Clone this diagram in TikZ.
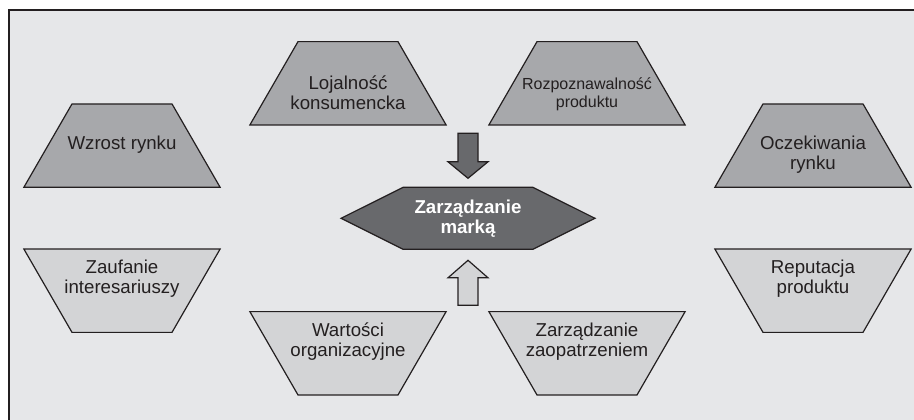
\documentclass[tikz,border=0pt]{standalone}
\usepackage{fontspec}
\setmainfont{Liberation Sans}
\usetikzlibrary{shapes.geometric,shapes.symbols,calc}

\definecolor{bgGray}{RGB}{230,231,233}
\definecolor{darkFill}{RGB}{167,168,171}
\definecolor{lightFill}{RGB}{211,212,214}
\definecolor{hexFill}{RGB}{104,105,108}
\definecolor{lineGray}{RGB}{35,31,32}

\tikzset{every picture/.style={line width=0.75pt},
  upshape/.style={trapezium, trapezium left angle=60, trapezium right angle=60,
    inner xsep=37.5pt, inner ysep=31.25pt,
    draw=lineGray, line width=0.9pt, fill=darkFill},
  downshape/.style={upshape, shape border rotate=180, fill=lightFill},
  lbl/.style={align=center, inner sep=0pt, text=lineGray, font=\fontsize{14}{15}\selectfont},
  hexshape/.style={signal, signal to=west and east, signal pointer angle=53,
    minimum width=190.5pt, minimum height=46.5pt, inner sep=0pt,
    draw=lineGray, line width=0.9pt, fill=hexFill, text=white, align=center,
    font=\bfseries\fontsize{14}{15}\selectfont},
  blockdn/.style={draw=lineGray, line width=0.9pt, fill=hexFill},
  blockup/.style={draw=lineGray, line width=0.9pt, fill=lightFill}
}

\begin{document}
\begin{tikzpicture}[x=0.75pt,y=0.75pt,yscale=-1,xscale=1]
\useasboundingbox (0,0) rectangle (914,420);

%Shape: Frame
\fill [bgGray] (8.7,10) rectangle (914,420);
\draw [color=lineGray, line width=1.5pt] (8.7,420) -- (8.7,10) -- (914,10);

%Shape: Hexagon
\node [hexshape] (hex) at (468,218.3) {Zarządzanie\\marką};

%Shape: Trapezoids, top row
\node [upshape] (lojal) at (348,83.3) {};
\node [upshape] (rozp) at (587,83.3) {};
%Shape: Trapezoids, side columns
\node [upshape] (wzrost) at (122,145.6) {};
\node [upshape] (oczek) at (813,145.6) {};
\node [downshape] (zauf) at (122,290.7) {};
\node [downshape] (reput) at (813,290.7) {};
%Shape: Trapezoids, bottom row
\node [downshape] (wart) at (348,353.3) {};
\node [downshape] (zaop) at (587,353.3) {};

% Text Node
\node [lbl] (lojalT) at ($(lojal)+(0,9)$) {Lojalność\\konsumencka};
\node [lbl, font=\fontsize{12}{13}\selectfont] (rozpT) at ($(rozp)+(0,11)$) {Rozpoznawalność\\produktu};
\node [lbl] (wzrostT) at ($(wzrost)+(0,-1)$) {Wzrost rynku};
\node [lbl] (oczekT) at ($(oczek)+(0,9)$) {Oczekiwania\\rynku};
\node [lbl] (zaufT) at ($(zauf)+(0,-12)$) {Zaufanie\\interesariuszy};
\node [lbl] (reputT) at ($(reput)+(0,-12)$) {Reputacja\\produktu};
\node [lbl] (wartT) at ($(wart)+(0,-12)$) {Wartości\\organizacyjne};
\node [lbl] (zaopT) at ($(zaop)+(0,-12)$) {Zarządzanie\\zaopatrzeniem};

%Shape: Block arrow down
\draw [blockdn] ($(hex)+(-10,-85)$) -- ++(20,0) -- ++(0,28.5) -- ++(10,0) -- ++(-20,16.5) -- ++(-20,-16.5) -- ++(10,0) -- cycle;
%Shape: Block arrow up
\draw [blockup] ($(hex)+(-10,87)$) -- ++(20,0) -- ++(0,-27.5) -- ++(10,0) -- ++(-20,-17.5) -- ++(-20,17.5) -- ++(10,0) -- cycle;

\end{tikzpicture}
\end{document}
